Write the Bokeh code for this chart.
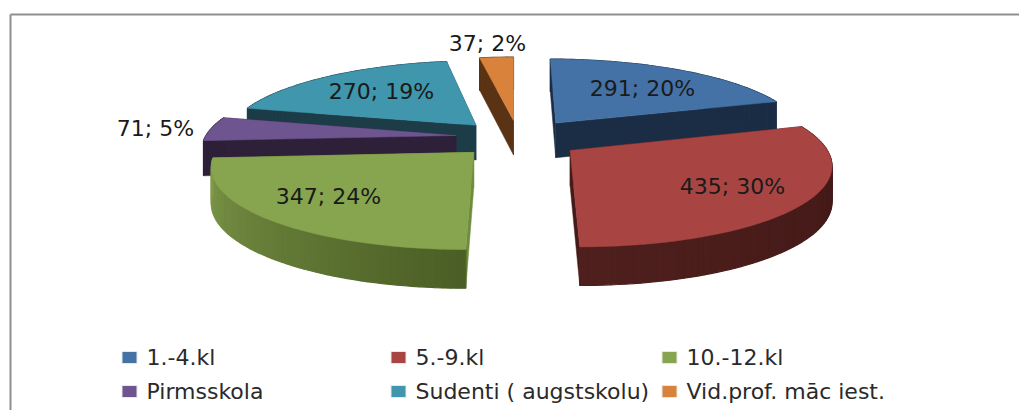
import numpy as np
from bokeh.plotting import figure
from bokeh.models import Range1d
from bokeh.core.properties import value
from bokeh.embed import file_html
from bokeh.resources import INLINE

# ---- data
categories = ["1.-4.kl", "5.-9.kl", "10.-12.kl", "Pirmsskola", "Sudenti ( augstskolu)", "Vid.prof. māc iest."]
values = [291, 435, 347, 71, 270, 37]
percents = [20, 30, 24, 5, 19, 2]

# ---- styles and layout
top_colors = ["#4472a6", "#a84543", "#87a44e", "#6f5590", "#3f96ad", "#d9823c"]
rim_from = ["#1b2d45", "#3f1715", "#4b5e25", "#2d2038", "#1c3c48", "#5a3314"]
rim_to = ["#1b2d45", "#4e1f1d", "#7f9a4b", "#2d2038", "#1c3c48", "#5a3314"]
side_colors = ["#1b2d45", "#451a18", "#6f8c3c", "#2d2038", "#1c3c48", "#5a3314"]
explode_x = [0.173, 0.22, -0.154, -0.23, -0.153, 0.0]
explode_y = [0.165, -0.188, -0.212, 0.0, 0.135, 0.2]
draw_order = [4, 5, 0, 3, 2, 1]
label_x = [642, 732, 328, 155, 381, 487]
label_y = [88, 186, 196, 128, 91, 43]
legend_x = [123, 392, 663, 123, 392, 663]
legend_y = [357, 357, 357, 391, 391, 391]

CX, CY, RX, RY, PERSP_X, PERSP_Y, DEPTH = 513, 135, 250, 77, 0.15, 0.15, 35
FONT = "DejaVu Sans"
LABEL_SIZE = "22px"

X0, X1, Y0, Y1 = 0, 1019, 0, 410
p = figure(width=X1 - X0, height=Y1 - Y0, output_backend="svg", toolbar_location=None,
           x_range=Range1d(X0, X1), y_range=Range1d(Y1, Y0), min_border=0)
p.axis.visible = False
p.grid.visible = False
p.outline_line_color = None
p.background_fill_color = "white"

# chart frame: only the top and left edges are in the picture
p.segment(x0=[10, 10], y0=[14, 14], x1=[1019, 10], y1=[14, 410],
          line_color="#8f8f8f", line_width=2)


def project(u, v):
    sx = 1.0 / (1.0 + PERSP_X * v)
    sy = 1.0 / (1.0 + PERSP_Y * v)
    return CX + RX * u * sx, CY - RY * v * sy, DEPTH * np.sqrt(sy)


def mix(a, b, t):
    ca = [int(a[i:i + 2], 16) for i in (1, 3, 5)]
    cb = [int(b[i:i + 2], 16) for i in (1, 3, 5)]
    return "#%02x%02x%02x" % tuple(int(round(x + (y - x) * t)) for x, y in zip(ca, cb))


edges = np.cumsum([0] + values) / sum(values) * 2 * np.pi
for i in draw_order:
    a = np.linspace(edges[i], edges[i + 1], max(6, int((edges[i + 1] - edges[i]) * 40)))
    ox, oy = explode_x[i], explode_y[i]
    rx, ry, rd = project(ox + np.sin(a), oy + np.cos(a))
    ax, ay, ad = project(np.array([ox]), np.array([oy]))
    # side faces of the cut
    for j in (0, -1):
        p.patch([ax[0], rx[j], rx[j], ax[0]], [ay[0], ry[j], ry[j] + rd[j], ay[0] + ad[0]],
                fill_color=side_colors[i], line_color=side_colors[i], line_width=0.5)
    # outer rim with a shading along the arc
    xs = [[rx[k], rx[k + 1], rx[k + 1], rx[k]] for k in range(len(a) - 1)]
    ys = [[ry[k], ry[k + 1], ry[k + 1] + rd[k + 1], ry[k] + rd[k]] for k in range(len(a) - 1)]
    cols = [mix(rim_from[i], rim_to[i], k / max(1, len(a) - 2)) for k in range(len(a) - 1)]
    p.patches(xs, ys, fill_color=cols, line_color=cols, line_width=1.2)
    # top surface
    p.patch(list(ax) + list(rx), list(ay) + list(ry), fill_color=top_colors[i],
            line_color=top_colors[i], line_width=0.5)

p.text(x=label_x, y=label_y,
       text=[f"{v}; {q}%" for v, q in zip(values, percents)],
       text_font=value(FONT), text_font_size=value(LABEL_SIZE), text_color="#1a1a1a",
       text_align="center", text_baseline="middle")

# legend
p.rect(x=[x + 6 for x in legend_x], y=legend_y, width=15, height=12, fill_color=top_colors,
       line_color="#e8e8e8", line_width=1)
p.text(x=[x + 23 for x in legend_x], y=legend_y, text=categories,
       text_font=value(FONT), text_font_size=value(LABEL_SIZE), text_color="#2a2a2a",
       text_align="left", text_baseline="middle")

open("out.html", "w").write(file_html(p, INLINE))
